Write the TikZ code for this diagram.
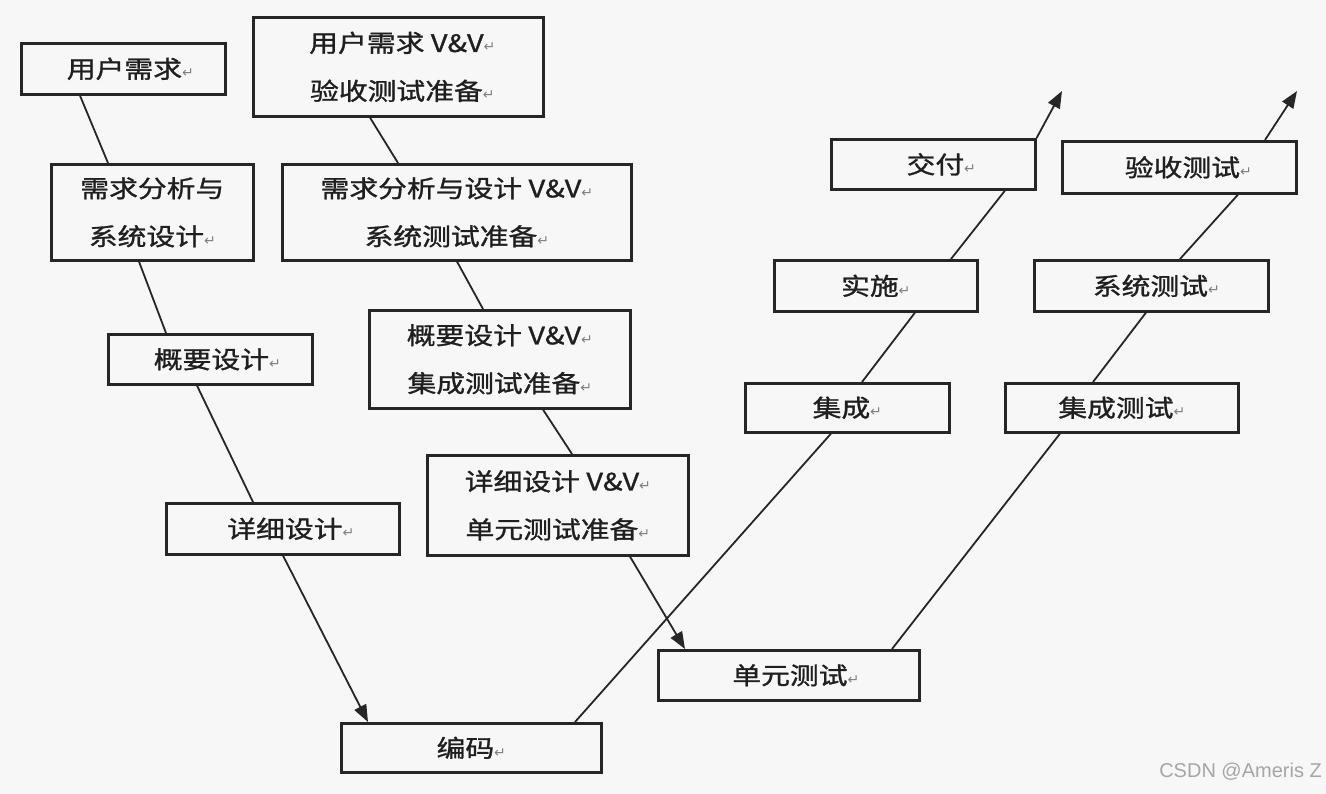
\documentclass[tikz,border=0pt]{standalone}
\usepackage{fontspec}
\usetikzlibrary{arrows.meta}
\newfontfamily\cjk[FakeStretch=1.2,FakeBold=1.2]{Noto Sans CJK SC}
\newfontfamily\retfont{DejaVu Sans}
\newfontfamily\wmfont{Liberation Sans}
\newcommand\parmk{{\retfont\fontsize{14}{14}\selectfont\color{black!50}↵}}
\definecolor{bg}{HTML}{F7F7F7}
\definecolor{ink}{HTML}{262626}
\begin{document}
\begin{tikzpicture}[x=1pt,y=-1pt,
  box/.style={draw=ink, line width=2.6pt, rectangle, anchor=north west, inner sep=0pt,
    font=\cjk\fontsize{24}{48}\selectfont, text=black!88, align=center},
  conn/.style={draw=ink, line width=1.8pt},
  arr/.style={conn, -{Triangle[length=17pt,width=13pt]}}]
\fill[bg] (0,0) rectangle (1326,794);
\useasboundingbox (0,0) rectangle (1326,794);

% left column (development)
\node[box, minimum width=204pt, minimum height=51pt] (u1) at (20,42) {\hspace*{14pt}用户需求\parmk};
\node[box, minimum width=202pt, minimum height=96pt] (u2) at (50,163) {需求分析与\\系统设计\parmk};
\node[box, minimum width=204pt, minimum height=50pt] (u3) at (107,333) {\hspace*{14pt}概要设计\parmk};
\node[box, minimum width=233pt, minimum height=51pt] (u4) at (165,502) {\hspace*{16pt}详细设计\parmk};
\node[box, minimum width=260pt, minimum height=49pt] (code) at (340,722) {编码\parmk};

% V&V column
\node[box, minimum width=290pt, minimum height=99pt] (v1) at (252,16) {\hspace*{8pt}用户需求 V\&V\parmk\\\hspace*{8pt}验收测试准备\parmk};
\node[box, minimum width=349pt, minimum height=96pt] (v2) at (281,163) {需求分析与设计 V\&V\parmk\\系统测试准备\parmk};
\node[box, minimum width=261pt, minimum height=98pt] (v3) at (368,309) {概要设计 V\&V\parmk\\集成测试准备\parmk};
\node[box, minimum width=261pt, minimum height=100pt] (v4) at (426,454) {详细设计 V\&V\parmk\\单元测试准备\parmk};
\node[box, minimum width=261pt, minimum height=50pt] (ut) at (657,649) {\hspace*{14pt}单元测试\parmk};

% right columns
\node[box, minimum width=204pt, minimum height=49pt] (ji) at (744,382) {集成\parmk};
\node[box, minimum width=203pt, minimum height=51pt] (ss) at (773,259) {实施\parmk};
\node[box, minimum width=204pt, minimum height=50pt] (jf) at (830,138) {\hspace*{16pt}交付\parmk};
\node[box, minimum width=233pt, minimum height=49pt] (it) at (1004,382) {集成测试\parmk};
\node[box, minimum width=234pt, minimum height=51pt] (st) at (1033,259) {\hspace*{10pt}系统测试\parmk};
\node[box, minimum width=234pt, minimum height=52pt] (at) at (1061,140) {\hspace*{18pt}验收测试\parmk};

\coordinate (t1) at (1062,91);
\coordinate (t2) at (1297,91);

% connectors
\draw[conn] ([xshift=60pt]u1.south west) -- ([xshift=58pt]u2.north west);
\draw[conn] ([xshift=89pt]u2.south west) -- ([xshift=59pt]u3.north west);
\draw[conn] ([xshift=90pt]u3.south west) -- ([xshift=88pt]u4.north west);
\draw[arr] ([xshift=118pt]u4.south west) -- ([xshift=28pt]code.north west);

\draw[conn] ([xshift=118pt]v1.south west) -- ([xshift=117pt]v2.north west);
\draw[conn] ([xshift=176pt]v2.south west) -- ([xshift=115pt]v3.north west);
\draw[conn] ([xshift=175pt]v3.south west) -- ([xshift=146pt]v4.north west);
\draw[arr] ([xshift=204pt]v4.south west) -- ([xshift=28pt]ut.north west);

\draw[conn] ([xshift=235pt]code.north west) -- ([xshift=87pt]ji.south west);
\draw[conn] ([xshift=118pt]ji.north west) -- ([xshift=142pt]ss.south west);
\draw[conn] ([xshift=178pt]ss.north west) -- ([xshift=175pt]jf.south west);
\draw[arr] (jf.north east) -- (t1);

\draw[conn] ([xshift=235pt]ut.north west) -- ([xshift=56pt]it.south west);
\draw[conn] ([xshift=89pt]it.north west) -- ([xshift=113pt]st.south west);
\draw[conn] ([xshift=147pt]st.north west) -- ([xshift=177pt]at.south west);
\draw[arr] ([xshift=204pt]at.north west) -- (t2);

\node[anchor=east, font=\wmfont\fontsize{20}{20}\selectfont, text=black!35, inner sep=0pt] (wm) at (1322,772) {CSDN @Ameris Z};
\end{tikzpicture}
\end{document}
